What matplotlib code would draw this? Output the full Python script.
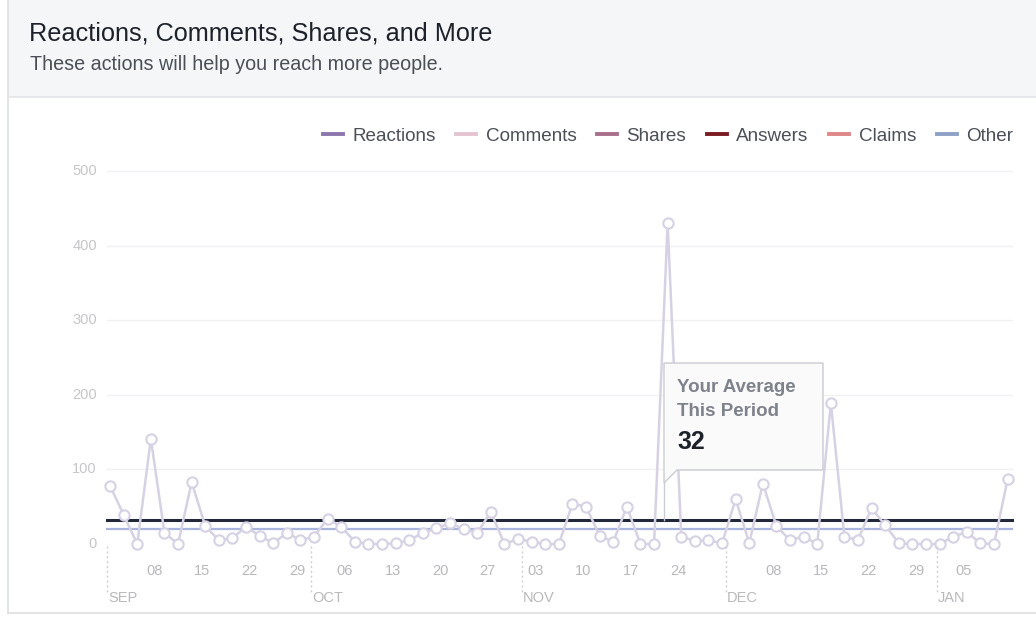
import matplotlib
matplotlib.use("Agg")
import matplotlib.pyplot as plt
from matplotlib.lines import Line2D
from matplotlib.patches import Polygon, Rectangle
import numpy as np

plt.rcParams["font.family"] = ["Liberation Sans", "DejaVu Sans"]

# ---------------------------------------------------------------------------
# Data: one value every 2 days, starting Sep 1
# ---------------------------------------------------------------------------
STEP_DAYS = 2
values = [
    78, 39, 0, 141, 15, 0, 83, 24, 5, 8,
    23, 11, 1, 15, 5, 10, 34, 23, 3, 0,
    0, 1, 5, 15, 21, 28, 20, 15, 43, 0,
    7, 3, 0, 0, 54, 50, 11, 3, 50, 0,
    0, 430, 10, 4, 5, 1, 60, 1, 81, 24,
    5, 10, 0, 189, 9, 6, 48, 25, 1, 0,
    0, 0, 10, 16, 1, 0, 87,
]
average_value = 32
benchmark_value = 20

# day offsets from Sep 1
tick_days = [7, 14, 21, 28, 35, 42, 49, 56, 63, 70, 77, 84, 98, 105, 112, 119, 126]
tick_labels = ["08", "15", "22", "29", "06", "13", "20", "27", "03", "10",
               "17", "24", "08", "15", "22", "29", "05"]
month_days = [0, 30, 61, 91, 122]
month_labels = ["SEP", "OCT", "NOV", "DEC", "JAN"]

y_ticks = [0, 100, 200, 300, 400, 500]

legend_labels = ["Reactions", "Comments", "Shares", "Answers", "Claims", "Other"]
legend_colors = ["#8d77ad", "#e3c4d0", "#a8718b", "#7a1c24", "#e08787", "#8ea2c8"]

# ---------------------------------------------------------------------------
W, H = 1036, 618
fig = plt.figure(figsize=(W / 100, H / 100), dpi=100)
fig.patch.set_facecolor("white")


def fx(px):
    return px / W


def fy(py):
    return 1 - py / H


# card frame + grey header
fig.add_artist(Rectangle((fx(8), fy(97)), fx(1036) - fx(8), fy(0) - fy(97),
                         transform=fig.transFigure, facecolor="#f5f6f7",
                         edgecolor="none", zorder=0))
fig.add_artist(Line2D([fx(8), fx(8)], [fy(0), fy(613)], transform=fig.transFigure,
                      color="#dddfe2", lw=1.2))
fig.add_artist(Line2D([fx(8), 1], [fy(97), fy(97)], transform=fig.transFigure,
                      color="#e3e5e8", lw=1.2))
fig.add_artist(Line2D([fx(8), 1], [fy(613), fy(613)], transform=fig.transFigure,
                      color="#dddfe2", lw=1.2))

fig.text(fx(29), fy(34), "Reactions, Comments, Shares, and More", fontsize=18.2,
         color="#1d2129", va="center", ha="left")
fig.text(fx(30), fy(65), "These actions will help you reach more people.", fontsize=14.2,
         color="#4b4f56", va="center", ha="left")

# ---------------------------------------------------------------------------
# axes: Sep 1 at px 107, 6.8 px per day; value 0 at py 544, 0.746 px per unit
PX_DAY = 6.8
PX_UNIT = 0.746
ax_left, ax_right = 100, 1020
ax_top, ax_bottom = 160, 556
ax = fig.add_axes([fx(ax_left), fy(ax_bottom), (ax_right - ax_left) / W,
                   (ax_bottom - ax_top) / H])
ax.set_xlim((ax_left - 107) / PX_DAY, (ax_right - 107) / PX_DAY)
ax.set_ylim(-(ax_bottom - 544) / PX_UNIT, (544 - ax_top) / PX_UNIT)
ax.axis("off")

x_end = (1012 - 107) / PX_DAY
for yv in y_ticks[1:]:
    ax.plot([0, x_end], [yv, yv], color="#f1f1f3", lw=1.0, zorder=1)
for yv in y_ticks:
    ax.text(-1.5, yv, str(yv), ha="right", va="center", fontsize=10.5, color="#c6c6ca")

days = np.arange(len(values)) * STEP_DAYS + 0.45
ax.plot([0, x_end], [average_value] * 2, color="#23273a", lw=2.2, zorder=3)
ax.plot([0, x_end], [benchmark_value] * 2, color="#a9b5dc", lw=1.6, zorder=3)
ax.plot(days, values, color="#d6d2e4", lw=1.8, marker="o", markersize=7.4,
        markerfacecolor="white", markeredgecolor="#d6d2e4", markeredgewidth=1.5,
        zorder=4, clip_on=False)

# x labels and month separators (drawn in figure pixels under the axes)
for d, lab in zip(tick_days, tick_labels):
    fig.text(fx(107 + d * PX_DAY), fy(571), lab, ha="center", va="center",
             fontsize=10.5, color="#b8b8bd")
for d, lab in zip(month_days, month_labels):
    px = 107 + d * PX_DAY
    fig.add_artist(Line2D([fx(px), fx(px)], [fy(546), fy(593)], transform=fig.transFigure,
                          color="#cfcfd4", lw=1.0, ls=(0, (1.5, 2))))
    fig.text(fx(px + 1), fy(598), lab, ha="left", va="center", fontsize=10.5,
             color="#b8b8bd")

# legend
handles = [Line2D([], [], color=c, lw=2.8) for c in legend_colors]
fig.legend(handles, legend_labels, loc="center right", bbox_to_anchor=(fx(1013), fy(136)),
           ncol=6, frameon=False, fontsize=13.6, handlelength=1.05, handletextpad=0.5,
           columnspacing=1.1, borderpad=0, borderaxespad=0, labelcolor="#4b4f56")

# tooltip callout
tip = Polygon([(fx(664), fy(363)), (fx(823), fy(363)), (fx(823), fy(470)),
               (fx(677), fy(470)), (fx(664), fy(483))], closed=True,
              transform=fig.transFigure, facecolor="#fafafb", edgecolor="#c9ccd1",
              lw=1.0, zorder=10)
fig.add_artist(tip)
fig.add_artist(Line2D([fx(664), fx(664)], [fy(483), fy(520)], transform=fig.transFigure,
                      color="#c9ccd1", lw=1.0, zorder=10))
fig.text(fx(677), fy(388), "Your Average", fontsize=13.5, fontweight="bold",
         color="#7e828b", va="center", ha="left", zorder=11)
fig.text(fx(677), fy(412), "This Period", fontsize=13.5, fontweight="bold",
         color="#7e828b", va="center", ha="left", zorder=11)
fig.text(fx(677), fy(442), str(average_value), fontsize=18, fontweight="bold",
         color="#1d2129", va="center", ha="left", zorder=11)

fig.savefig("out.png", dpi=100)
